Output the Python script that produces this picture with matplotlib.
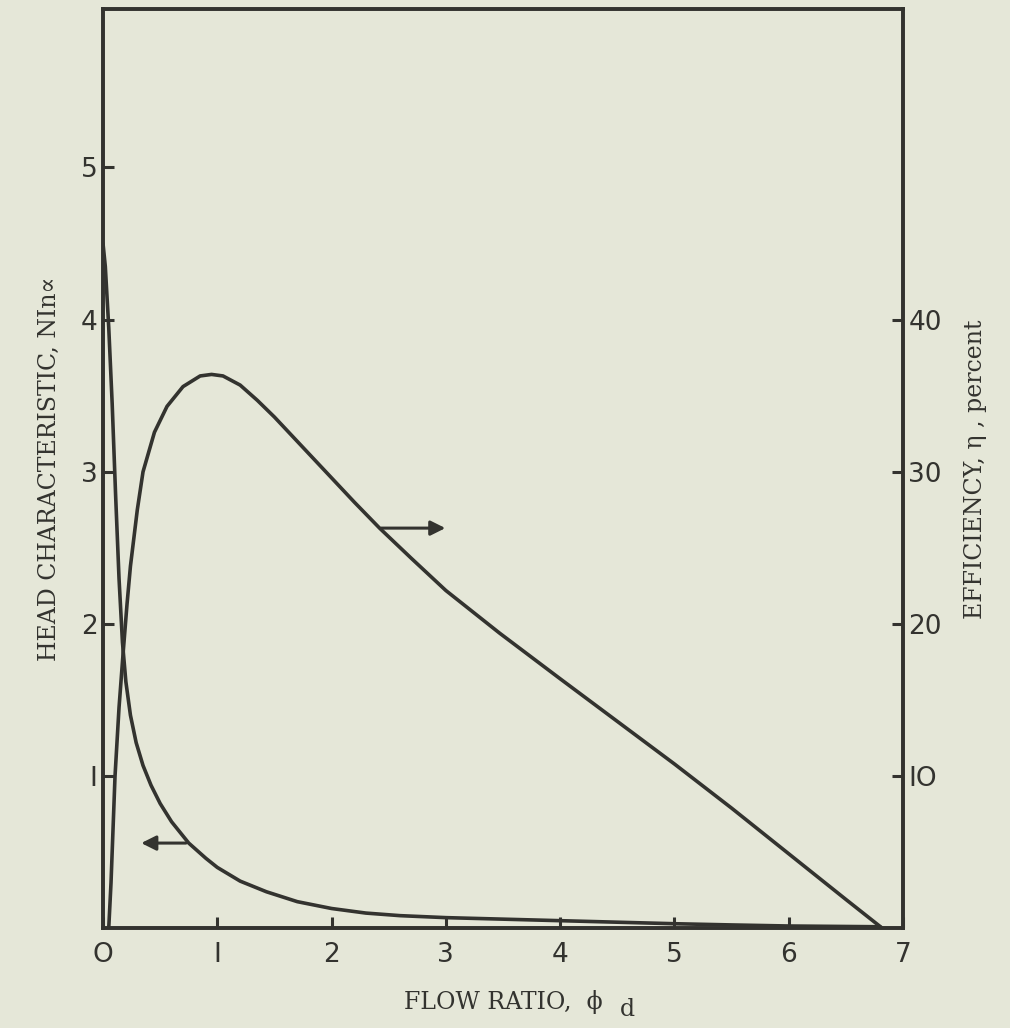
import numpy as np
import matplotlib
matplotlib.use('Agg')
import matplotlib.pyplot as plt

# head characteristic curve (left axis)
head_x = [0.0, 0.02, 0.05, 0.08, 0.11, 0.14, 0.17, 0.2, 0.24, 0.29, 0.35, 0.42, 0.5,
          0.6, 0.75, 0.9, 1.0, 1.2, 1.43, 1.7, 2.0, 2.3, 2.6, 3.0, 3.5, 4.0, 4.5,
          5.0, 5.5, 6.0, 6.8]
head_y = [4.5, 4.35, 3.95, 3.45, 2.85, 2.3, 1.88, 1.62, 1.40, 1.22, 1.07, 0.94, 0.82,
          0.70, 0.56, 0.46, 0.40, 0.31, 0.24, 0.175, 0.13, 0.1, 0.083, 0.07, 0.06,
          0.05, 0.04, 0.03, 0.022, 0.015, 0.01]

# efficiency curve (right axis, percent)
eff_x = [0.05, 0.07, 0.09, 0.105, 0.14, 0.175, 0.21, 0.24, 0.3, 0.35, 0.45, 0.56, 0.7,
         0.85, 0.95, 1.05, 1.2, 1.35, 1.5, 1.65, 1.8, 2.0, 2.2, 2.42, 2.7, 3.0, 3.47,
         4.0, 4.5, 5.0, 5.5, 6.0, 6.5, 6.82]
eff_y = [0, 3, 7, 10, 14.5, 18, 21.3, 23.8, 27.5, 30, 32.6, 34.3, 35.6,
         36.3, 36.4, 36.3, 35.7, 34.7, 33.6, 32.4, 31.2, 29.6, 28.0, 26.3, 24.3, 22.2, 19.4,
         16.4, 13.6, 10.8, 7.9, 4.9, 1.9, 0]

x_ticks = [0, 1, 2, 3, 4, 5, 6, 7]
left_ticks = [1, 2, 3, 4, 5]
right_ticks = [10, 20, 30, 40]

bg = '#e5e7d8'
ink = '#33332f'

fig = plt.figure(figsize=(10.1, 10.28), dpi=100, facecolor=bg)
ax = fig.add_axes([0.102, 0.097, 0.792, 0.894], facecolor=bg)
ax2 = ax.twinx()

ax.plot(head_x, head_y, color=ink, lw=2.6, solid_capstyle='round', solid_joinstyle='round')
ax2.plot(eff_x, eff_y, color=ink, lw=2.6, solid_capstyle='round', solid_joinstyle='round')

ax.set_xlim(0, 7)
ax.set_ylim(0, 6.04)
ax2.set_ylim(0, 60.4)

ax.set_xticks(x_ticks)
ax.set_xticklabels(['O', 'I', '2', '3', '4', '5', '6', '7'])
ax.set_yticks(left_ticks)
ax.set_yticklabels(['I', '2', '3', '4', '5'])
ax2.set_yticks(right_ticks)
ax2.set_yticklabels(['IO', '20', '30', '40'])

for lab in ax.get_xticklabels() + ax.get_yticklabels() + ax2.get_yticklabels():
    lab.set_fontfamily('DejaVu Sans')
    lab.set_fontsize(19)
    lab.set_fontweight('medium')
    lab.set_color(ink)

ax.tick_params(axis='both', direction='in', length=8, width=2.2, color=ink, pad=4)
ax.tick_params(axis='x', pad=10)
ax2.tick_params(axis='y', direction='in', length=8, width=2.2, color=ink, pad=4)

for a in (ax, ax2):
    for s in a.spines.values():
        s.set_linewidth(2.6)
        s.set_color(ink)

ax.set_xlabel('FLOW RATIO,  \u03d5', family='DejaVu Serif', fontsize=17,
              color=ink, labelpad=16)
fig.text(0.614, 0.012, 'd', family='DejaVu Serif', fontsize=17, color=ink)
ax.set_ylabel('HEAD CHARACTERISTIC, NIn\u221d', family='DejaVu Serif', fontsize=17,
              color=ink, labelpad=14)
ax2.set_ylabel('EFFICIENCY, \u03b7 , percent', family='DejaVu Serif', fontsize=17,
               color=ink, rotation=90, labelpad=16)

# pointer arrows
ax.annotate('', xy=(0.31, 0.56), xytext=(0.75, 0.56),
            arrowprops=dict(arrowstyle='-|>', color=ink, lw=2.2, mutation_scale=22))
ax2.annotate('', xy=(3.02, 26.3), xytext=(2.41, 26.3),
             arrowprops=dict(arrowstyle='-|>', color=ink, lw=2.2, mutation_scale=22))

plt.savefig('out.png', dpi=100, facecolor=fig.get_facecolor())
